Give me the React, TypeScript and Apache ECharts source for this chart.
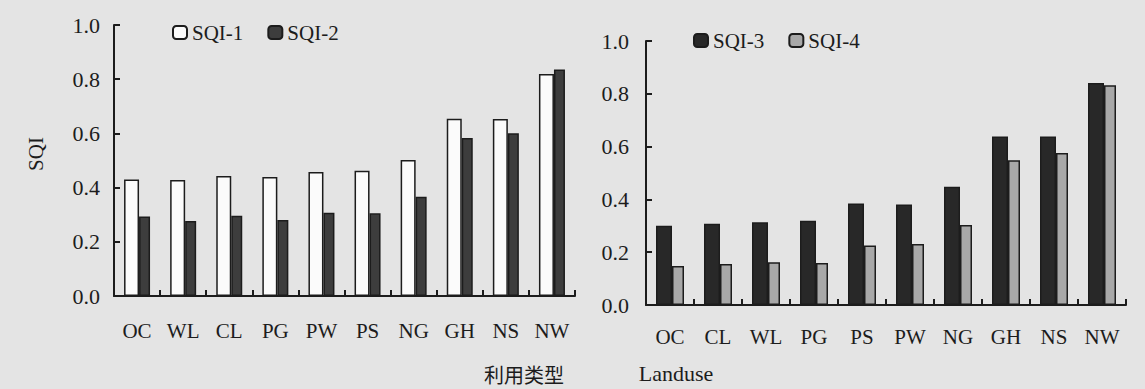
import React, { useEffect, useRef } from "react";
import * as echarts from "echarts";

const categoriesLeft = ["OC", "WL", "CL", "PG", "PW", "PS", "NG", "GH", "NS", "NW"];
const sqi1 = [0.43, 0.428, 0.443, 0.439, 0.458, 0.462, 0.502, 0.654, 0.653, 0.819];
const sqi2 = [0.293, 0.277, 0.296, 0.28, 0.307, 0.305, 0.366, 0.583, 0.601, 0.836];

const categoriesRight = ["OC", "CL", "WL", "PG", "PS", "PW", "NG", "GH", "NS", "NW"];
const sqi3 = [0.3, 0.308, 0.313, 0.319, 0.384, 0.381, 0.448, 0.638, 0.638, 0.841];
const sqi4 = [0.148, 0.155, 0.162, 0.159, 0.225, 0.231, 0.303, 0.548, 0.576, 0.832];

const yMin = 0;
const yMax = 1;
const yStep = 0.2;

const SERIF = "'Liberation Serif', 'Times New Roman', serif";
const INK = "#1c1c1c";

export default function App() {
  const ref = useRef<HTMLDivElement>(null);

  useEffect(() => {
    if (!ref.current) return;
    const chart = echarts.init(ref.current, null, { renderer: "svg" });

    const xAxisBase = (gridIndex: number, data: string[], margin: number) => ({
      type: "category",
      gridIndex,
      data,
      axisLine: { show: true, lineStyle: { color: INK, width: 2 } },
      axisTick: { show: true, inside: true, length: 6, lineStyle: { color: INK, width: 2 } },
      axisLabel: {
        interval: 0,
        margin,
        color: INK,
        fontFamily: SERIF,
        fontSize: 21,
      },
      splitLine: { show: false },
    });

    const yAxisBase = (gridIndex: number, margin: number) => ({
      type: "value",
      gridIndex,
      min: yMin,
      max: yMax,
      interval: yStep,
      axisLine: { show: true, lineStyle: { color: INK, width: 2 } },
      axisTick: { show: true, inside: true, length: 6, lineStyle: { color: INK, width: 2 } },
      axisLabel: {
        margin,
        color: INK,
        fontFamily: SERIF,
        fontSize: 22,
        formatter: (v: number) => v.toFixed(1),
      },
      splitLine: { show: false },
    });

    const legendText = { fontFamily: SERIF, fontSize: 21, color: INK };

    const option = {
      animation: false,
      backgroundColor: "#e4e4e4",
      grid: [
        { left: 114, top: 25, width: 461, height: 271 },
        { left: 646, top: 41, width: 480, height: 264 },
      ],
      legend: [
        {
          data: ["SQI-1", "SQI-2"],
          left: 167,
          top: 17,
          itemWidth: 14,
          itemHeight: 13,
          itemGap: 24,
          selectedMode: false,
          textStyle: legendText,
        },
        {
          data: ["SQI-3", "SQI-4"],
          left: 688,
          top: 25,
          itemWidth: 14,
          itemHeight: 13,
          itemGap: 24,
          selectedMode: false,
          textStyle: legendText,
        },
      ],
      xAxis: [xAxisBase(0, categoriesLeft, 24), xAxisBase(1, categoriesRight, 21)],
      yAxis: [yAxisBase(0, 14), yAxisBase(1, 17)],
      series: [
        {
          name: "SQI-1",
          type: "bar",
          xAxisIndex: 0,
          yAxisIndex: 0,
          data: sqi1,
          barWidth: 15,
          barGap: "0%",
          itemStyle: { color: "#fbfbfb", borderColor: INK, borderWidth: 1.5 },
        },
        {
          name: "SQI-2",
          type: "bar",
          xAxisIndex: 0,
          yAxisIndex: 0,
          data: sqi2,
          barWidth: 11,
          barGap: "0%",
          itemStyle: { color: "#3d3d3d", borderColor: INK, borderWidth: 1.5 },
        },
        {
          name: "SQI-3",
          type: "bar",
          xAxisIndex: 1,
          yAxisIndex: 1,
          data: sqi3,
          barWidth: 16,
          barGap: "0%",
          itemStyle: { color: "#282828", borderColor: INK, borderWidth: 1.5 },
        },
        {
          name: "SQI-4",
          type: "bar",
          xAxisIndex: 1,
          yAxisIndex: 1,
          data: sqi4,
          barWidth: 12,
          barGap: "0%",
          itemStyle: { color: "#a8a8a8", borderColor: INK, borderWidth: 1.5 },
        },
      ],
      graphic: [
        {
          type: "text",
          x: 36,
          y: 154,
          rotation: Math.PI / 2,
          style: {
            text: "SQI",
            fontFamily: SERIF,
            fontSize: 21,
            fill: INK,
            align: "center",
            verticalAlign: "middle",
          },
        },
        {
          type: "text",
          x: 524,
          y: 374,
          style: {
            text: "利用类型",
            fontFamily: "'Noto Sans CJK SC', sans-serif",
            fontSize: 20,
            fill: INK,
            align: "center",
            verticalAlign: "middle",
          },
        },
        {
          type: "text",
          x: 676,
          y: 373,
          style: {
            text: "Landuse",
            fontFamily: SERIF,
            fontSize: 22,
            fill: INK,
            align: "center",
            verticalAlign: "middle",
          },
        },
      ],
    };

    chart.setOption(option as any);
    return () => chart.dispose();
  }, []);

  return (
    <div
      ref={ref}
      style={{ position: "fixed", left: 0, top: 0, width: 1145, height: 389 }}
    />
  );
}
